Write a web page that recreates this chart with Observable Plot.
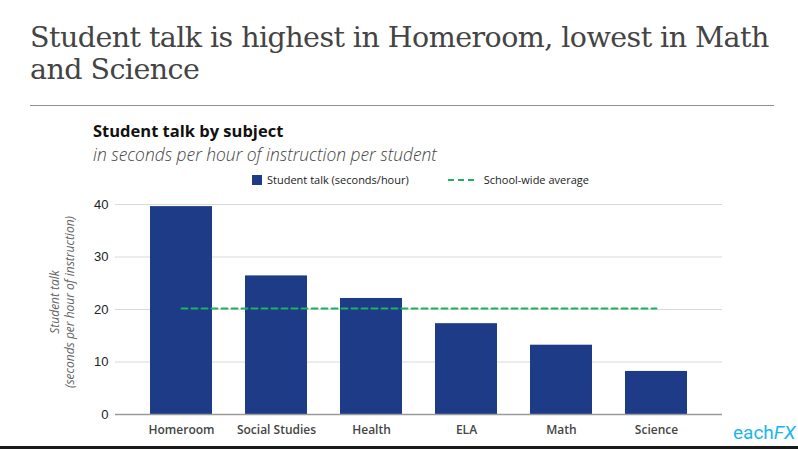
<!DOCTYPE html>
<html>
<head>
<meta charset="utf-8">
<script src="https://cdn.jsdelivr.net/npm/d3@7"></script>
<script src="https://cdn.jsdelivr.net/npm/@observablehq/plot@0.6"></script>
<style>
  html, body { margin: 0; padding: 0; background: #fff; }
  body { width: 798px; height: 449px; position: relative; overflow: hidden; font-family: "Open Sans", sans-serif; }
  .abs { position: absolute; white-space: nowrap; }
  #title { left: 30px; top: 22px; font-family: "DejaVu Serif", serif; font-size: 28.5px; line-height: 32px; color: #444; letter-spacing: -0.55px; }
  #rule { left: 30px; top: 105px; width: 744px; height: 0; border-top: 1.5px solid #8f8f8f; }
  #ctitle { left: 93px; top: 119px; font-size: 16.5px; font-weight: bold; color: #111; }
  #csub { left: 93px; top: 142px; font-size: 17.4px; font-style: italic; font-weight: 300; color: #444; }
  #legend { left: 252px; top: 172px; font-size: 11px; color: #222; display: flex; align-items: center; }
  .sw { display: inline-block; width: 10px; height: 10px; background: #1d3b86; margin-right: 5px; }
  .dash { display: inline-block; width: 26px; height: 0; border-top: 2.5px dashed #1db35c; margin-left: 39px; margin-right: 10px; }
  #chart { left: 0; top: 190px; }
  #logo { left: 733px; top: 421px; font-family: Roboto, sans-serif; font-size: 19px; color: #19b6f0; }
  #bottom { left: 0; top: 446px; width: 798px; height: 3px; background: #1a1a1a; }
</style>
</head>
<body>
<div class="abs" id="title">Student talk is highest in Homeroom, lowest in Math<br>and Science</div>
<div class="abs" id="rule"></div>
<div class="abs" id="ctitle">Student talk by subject</div>
<div class="abs" id="csub">in seconds per hour of instruction per student</div>
<div class="abs" id="legend"><span class="sw"></span><span>Student talk (seconds/hour)</span><span class="dash"></span><span>School-wide average</span></div>
<div class="abs" id="chart"></div>
<div class="abs" id="logo">each<i>FX</i></div>
<div class="abs" id="bottom"></div>
<script>
const subjects = ["Homeroom", "Social Studies", "Health", "ELA", "Math", "Science"];
const talk = [39.6, 26.4, 22.1, 17.3, 13.2, 8.2];
const schoolAverage = 20.2;
const yTicks = [0, 10, 20, 30, 40];

const data = subjects.map((s, i) => ({subject: s, value: talk[i], avg: schoolAverage}));

const plot = Plot.plot({
  width: 798,
  height: 259,
  marginTop: 14,
  marginBottom: 35,
  marginLeft: 115,
  marginRight: 76,
  style: {fontFamily: "'Open Sans', sans-serif", background: "transparent"},
  x: {domain: subjects, padding: 0.35, label: null, tickSize: 0, tickPadding: 11},
  y: {domain: [0, 40], ticks: yTicks, label: null, tickSize: 0, tickPadding: 7},
  marks: [
    Plot.gridY(yTicks, {stroke: "#d9d9d9", strokeOpacity: 1, strokeWidth: 1}),
    Plot.barY(data, {x: "subject", y: "value", fill: "#1d3b86"}),
    Plot.ruleY([0], {stroke: "#9a9a9a", strokeWidth: 1.5}),
    Plot.lineY(data, {x: "subject", y: "avg", stroke: "#1db35c", strokeWidth: 2, strokeDasharray: "6,4"})
  ]
});
document.getElementById("chart").appendChild(plot);

const svg = d3.select(plot);
svg.selectAll("[aria-label='y-axis tick label'] text")
  .style("font-family", "'Liberation Sans', Arial, sans-serif").style("font-size", "13px").style("fill", "#222");
svg.selectAll("[aria-label='x-axis tick label'] text")
  .style("font-size", "12px").style("font-weight", "600").style("fill", "#444");

const lab = svg.append("g")
  .attr("transform", "translate(0,112) rotate(-90)")
  .attr("text-anchor", "middle")
  .style("font-family", "'Open Sans', sans-serif")
  .style("font-style", "italic")
  .style("font-size", "12px")
  .style("fill", "#666");
lab.append("text").attr("x", 0).attr("y", 59).text("Student talk");
lab.append("text").attr("x", 0).attr("y", 74).text("(seconds per hour of instruction)");
</script>
</body>
</html>
